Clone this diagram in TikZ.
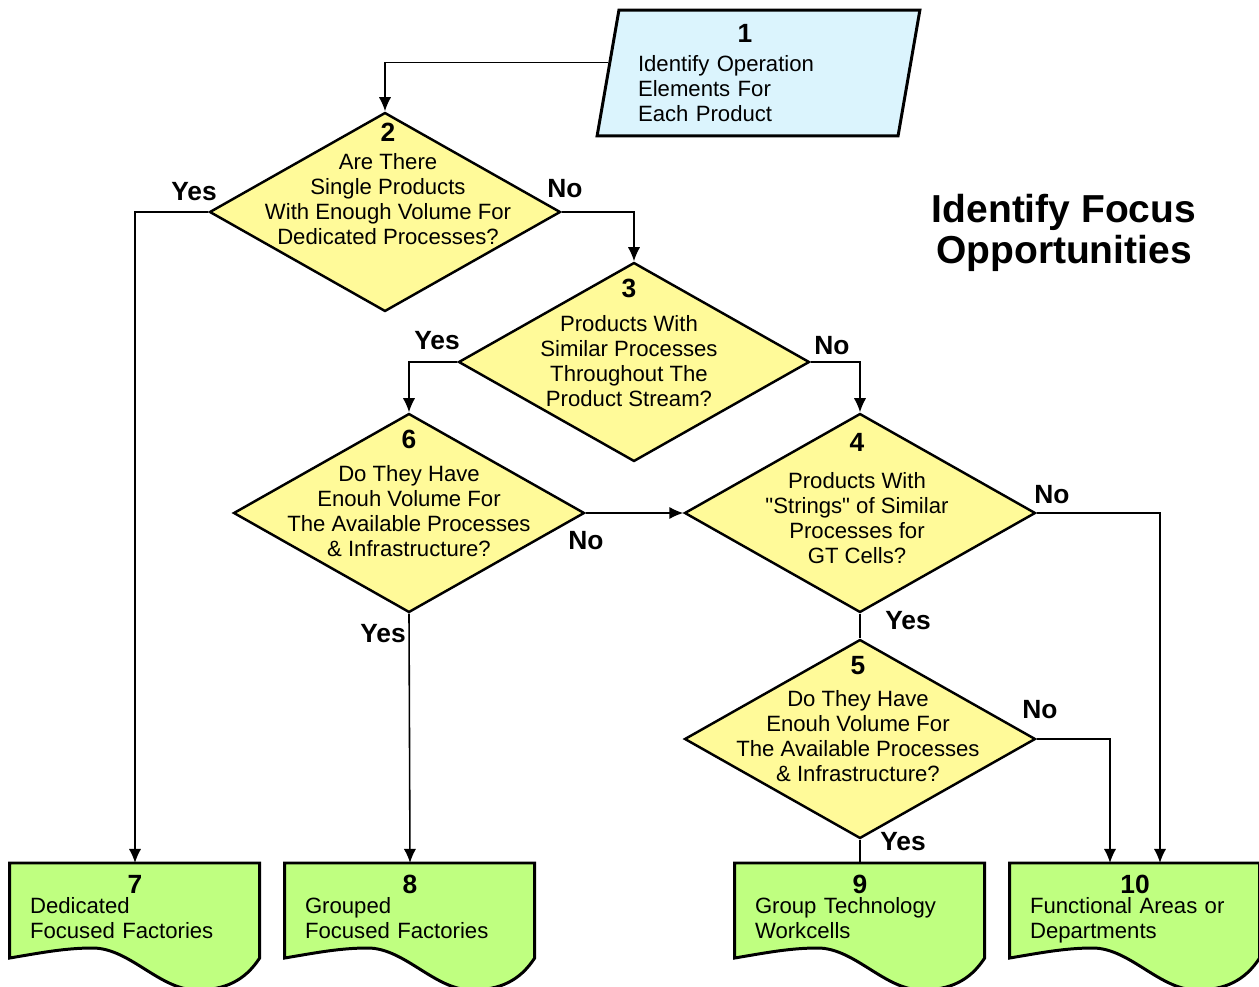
\documentclass[tikz,border=0pt]{standalone}
\usepackage{fontspec}
\setmainfont{Liberation Sans}[Ligatures=TeXOff]
\usetikzlibrary{shapes.geometric}
\usetikzlibrary{arrows.meta}
\usetikzlibrary{backgrounds}
\tikzset{>={Latex[length=8pt,width=7pt]}}
\colorlet{mycyan}{cyan!14}
\colorlet{myyellow}{yellow!40}
\colorlet{mygreen}{green!50!yellow!50!white}
\newcommand\stepnum[1]{{\fontsize{15}{14.2}\selectfont\bfseries #1}}
\tikzstyle{flow line}=[line width=0.9pt]
\tikzstyle{io box}=[trapezium,trapezium left angle=79,trapezium right angle=101,trapezium stretches,
  draw,line width=1.7pt,fill=mycyan,inner sep=0pt,minimum width=6.46cm,minimum height=2.52cm,
  text width=4.82cm,align=left,font=\fontsize{12.6}{14.2}\selectfont]
\tikzstyle{decision}=[diamond,draw,line width=1.4pt,fill=myyellow,inner sep=0pt,
  minimum width=7.02cm,minimum height=3.98cm]
\tikzstyle{step text}=[align=center,inner sep=0pt,anchor=base,font=\fontsize{12.6}{14.2}\selectfont]
\tikzstyle{result box}=[rectangle,inner sep=0pt,minimum width=5cm,minimum height=1.74cm,anchor=north,
  text width=4.2cm,align=left,font=\fontsize{12.6}{14.2}\selectfont]
\tikzstyle{result outline}=[draw,line width=1.7pt,fill=mygreen]
\tikzstyle{answer}=[inner sep=0pt,font=\fontsize{15}{15}\selectfont\bfseries]
\tikzstyle{chart title}=[align=center,inner sep=0pt,anchor=base,font=\fontsize{22.2}{23.2}\selectfont\bfseries]

\begin{document}
\begin{tikzpicture}[x=0.02cm,y=-0.02cm]
  \useasboundingbox (0,0) rectangle (1259,987);
  
  % START
  \node[io box] (p1) at (758.5,73) {\makebox[4.28cm]{\stepnum{1}}\\[2.2pt]Identify Operation\\Elements For\\Each Product};
  
  % DECISIONS (text base = last line)
  \node[decision] (d2) at (385,212) {};
  \node[decision] (d3) at (634,362) {};
  \node[decision] (d6) at (409,513) {};
  \node[decision] (d4) at (860,513) {};
  \node[decision] (d5) at (860,739) {};
  \node[step text] (t2) at (388,244) {\stepnum{2}\\[1.7pt]Are There\\Single Products\\With Enough Volume For\\Dedicated Processes?};
  \node[step text] (t3) at (629,406) {\stepnum{3}\\[5pt]Products With\\Similar Processes\\Throughout The\\Product Stream?};
  \node[step text] (t6) at (409,556) {\stepnum{6}\\[4.5pt]Do They Have\\Enouh Volume For\\The Available Processes\\\& Infrastructure?};
  \node[step text] (t4) at (857,563) {\stepnum{4}\\[6.8pt]Products With\\"Strings" of Similar\\Processes for\\GT Cells?};
  \node[step text] (t5) at (858,781) {\stepnum{5}\\[4pt]Do They Have\\Enouh Volume For\\The Available Processes\\\& Infrastructure?};
  
  % RESULTS
  \node[result box] (d7) at (135,863) {\makebox[4.2cm]{\stepnum{7}}\\[-2.9pt]Dedicated\\Focused Factories};
  \node[result box] (d8) at (410,863) {\makebox[4.2cm]{\stepnum{8}}\\[-2.9pt]Grouped\\Focused Factories};
  \node[result box] (d9) at (860,863) {\makebox[4.2cm]{\stepnum{9}}\\[-2.9pt]Group Technology\\Workcells};
  \node[result box] (d10) at (1135,863) {\makebox[4.2cm]{\stepnum{10}}\\[-2.9pt]Functional Areas or\\\smash{Departments}};
  \begin{scope}[on background layer]
    \foreach \n in {7,...,10}{
      \begin{scope}[shift={(d\n.north west)}]
        \draw[result outline] (0,0) -- (250,0) -- (250,95)
          .. controls (235,118) and (215,127) .. (187,127)
          .. controls (150,127) and (120,85) .. (83,85)
          .. controls (55,85) and (30,90) .. (0,95) -- cycle;
      \end{scope}
    }
  \end{scope}
  
  % CONNECTORS
  \draw[flow line,->] (p1.176) -| (d2.north);
  \draw[flow line,->] (d2.west) -| (d7.north);
  \draw[flow line,->] (d2.east) -| (d3.north);
  \draw[flow line,->] (d3.west) -| (d6.north);
  \draw[flow line,->] (d3.east) -| (d4.north);
  \draw[flow line,->] (d6.east) -- (d4.west);
  \draw[flow line,->] (d6.south) -- (d8.north);
  \draw[flow line,->] (d4.east) -| ([xshift=0.5cm]d10.north);
  \draw[flow line] (d4.south) -- (d5.north);
  \draw[flow line,->] (d5.east) -| ([xshift=-0.5cm]d10.north);
  \draw[flow line] (d5.south) -- (d9.north);
  
  % ANSWERS
  \node[answer] (a2yes) at (194,192) {Yes};
  \node[answer] (a2no) at (565,189) {No};
  \node[answer] (a3yes) at (437,341) {Yes};
  \node[answer] (a3no) at (832,346) {No};
  \node[answer] (a6no) at (586,541) {No};
  \node[answer] (a6yes) at (383,634) {Yes};
  \node[answer] (a4no) at (1052,495) {No};
  \node[answer] (a4yes) at (908,621) {Yes};
  \node[answer] (a5no) at (1040,710) {No};
  \node[answer] (a5yes) at (903,842) {Yes};
  
  % TITLE
  \node[chart title] (title) at (1064,263) {Identify Focus\\Opportunities};
  
\end{tikzpicture}
\end{document}
